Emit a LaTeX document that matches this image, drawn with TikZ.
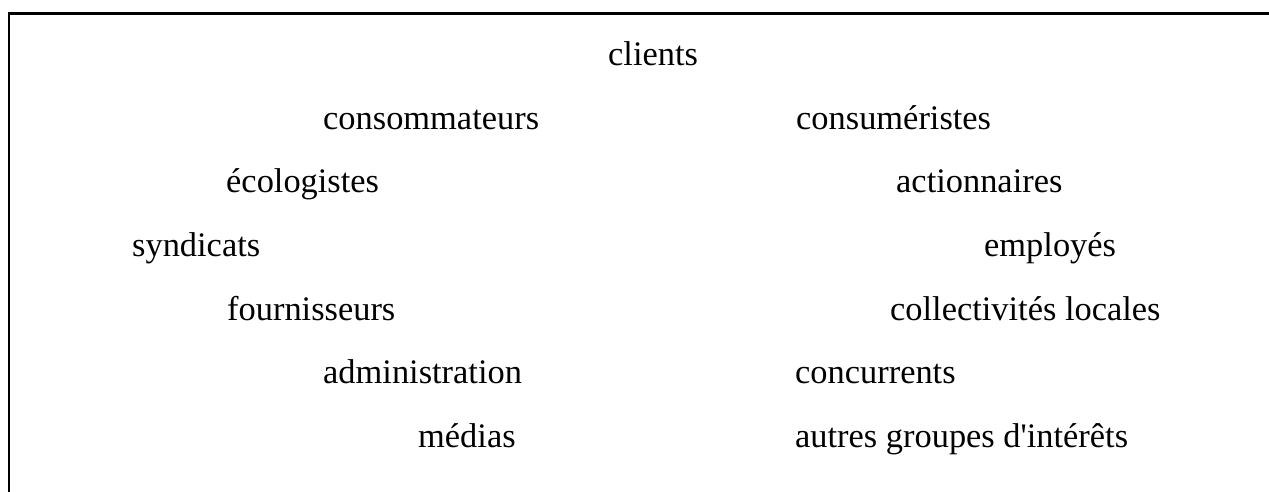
\documentclass[tikz,border=0pt]{standalone}
\usepackage{fontspec}
\newfontfamily\lib{Liberation Serif}
\begin{document}
\begin{tikzpicture}[x=1pt,y=-1pt,
  lbl/.style={anchor=base west,inner sep=0pt,font=\lib\fontsize{34.4}{41}\selectfont},
  frameline/.style={line width=2.2pt,black}]
\useasboundingbox (0,0) rectangle (1269,492);
\coordinate (fb) at (9,492);
\coordinate (fc) at (9,13.5);
\coordinate (fr) at (1269,13.5);
\draw[frameline] (fb) -- (fc) -- (fr);
\node[lbl] (clients) at (608,66) {clients};
\node[lbl] (consommateurs) at (323,129.5) {consommateurs};
\node[lbl] (consumeristes) at (796,129.5) {consuméristes};
\node[lbl] (ecologistes) at (226,193) {écologistes};
\node[lbl] (actionnaires) at (896,193) {actionnaires};
\node[lbl] (syndicats) at (132,256.5) {syndicats};
\node[lbl] (employes) at (984,256.5) {employés};
\node[lbl] (fournisseurs) at (227,320) {fournisseurs};
\node[lbl] (collectivites) at (890,320) {collectivités locales};
\node[lbl] (administration) at (323,383.5) {administration};
\node[lbl] (concurrents) at (795,383.5) {concurrents};
\node[lbl] (medias) at (418,447) {médias};
\node[lbl] (autres) at (795,447) {autres groupes d'intérêts};
\end{tikzpicture}
\end{document}
